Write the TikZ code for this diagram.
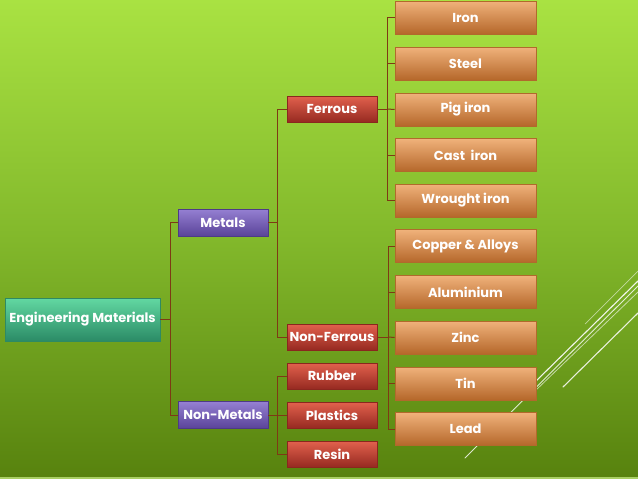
\documentclass[tikz,border=0pt]{standalone}
\usepackage{fontspec}
\setsansfont{Poppins}
\usetikzlibrary{calc}
\definecolor{bgtop}{HTML}{A9E242}
\definecolor{bgmid}{HTML}{82B82B}
\definecolor{bgbot}{HTML}{57820E}
\definecolor{bgstrip}{HTML}{A9D064}
\definecolor{conn}{HTML}{7E3A14}
\definecolor{tealT}{HTML}{62D8A2}
\definecolor{tealB}{HTML}{2B8B66}
\definecolor{tealD}{HTML}{2E8A63}
\definecolor{purpT}{HTML}{9580D2}
\definecolor{purpB}{HTML}{5A4399}
\definecolor{purpD}{HTML}{4E3A86}
\definecolor{redT}{HTML}{E2614D}
\definecolor{redB}{HTML}{962A21}
\definecolor{redD}{HTML}{8A271E}
\definecolor{oraT}{HTML}{F0B27B}
\definecolor{oraB}{HTML}{B5672A}
\definecolor{oraD}{HTML}{B06A2C}
\tikzset{
  box/.style={rectangle, inner sep=0pt, text=white, font=\sffamily\bfseries\fontsize{13}{15}\selectfont, line width=0.6pt},
  teal/.style={box, top color=tealT, bottom color=tealB, draw=tealD, minimum width=155pt, minimum height=43pt},
  purp/.style={box, top color=purpT, bottom color=purpB, draw=purpD, minimum width=90pt, minimum height=27pt},
  redb/.style={box, top color=redT, bottom color=redB, draw=redD, minimum width=90pt, minimum height=26pt},
  orab/.style={box, top color=oraT, bottom color=oraB, draw=oraD, minimum width=141pt, minimum height=33pt},
  cline/.style={draw=conn, line width=1pt},
  deco/.style={draw=white, line cap=round},
}
\begin{document}
\begin{tikzpicture}[x=1pt,y=-1pt]
\useasboundingbox (0,0) rectangle (638,479);
% background
\shade[top color=bgtop, bottom color=bgbot, middle color=bgmid] (0,0) rectangle (638,479);
\fill[bgstrip] (0,476.5) rectangle (638,479);
% decorative lines
\draw[deco, line width=0.7pt, opacity=0.55] (585,324) -- (638,271);
\draw[deco, line width=1.1pt, opacity=0.9] (535,382) -- (638,281);
\draw[deco, line width=0.9pt, opacity=0.8] (465,458) -- (638,286);
\draw[deco, line width=0.8pt, opacity=0.6] (535,391) -- (638,292);
\draw[deco, line width=1.1pt, opacity=0.85] (563,387) -- (638,313);
% nodes
\node[teal] (em) at (82.5,319.5) {Engineering Materials};
\node[purp] (met) at (223,222.5) {Metals};
\node[purp] (nmet) at (223,415) {Non-Metals};
\node[redb] (fer) at (332,109) {Ferrous};
\node[redb] (nfer) at (332,337) {Non-Ferrous};
\node[redb] (rub) at (332,376) {Rubber};
\node[redb] (pla) at (332,415) {Plastics};
\node[redb] (res) at (332,454) {Resin};
\node[orab] (iron) at (465.5,17.5) {Iron};
\node[orab] (steel) at (465.5,63.5) {Steel};
\node[orab] (pig) at (465.5,109.5) {Pig iron};
\node[orab] (cast) at (465.5,155) {Cast\ \ iron};
\node[orab] (wro) at (465.5,200.5) {Wrought iron};
\node[orab] (cop) at (465.5,246) {Copper \& Alloys};
\node[orab] (alu) at (465.5,292) {Aluminium};
\node[orab] (zinc) at (465.5,337.5) {Zinc};
\node[orab] (tin) at (465.5,383.5) {Tin};
\node[orab] (lead) at (465.5,429) {Lead};
% junctions
\coordinate (j1) at (170,319.5);
\coordinate (j2) at (277,222.5);
\coordinate (j3) at (277,415);
\coordinate (j4) at (387,109);
\coordinate (j5) at (388,337);
% connectors
\draw[cline] (em.east) -- (j1) |- (met.west);
\draw[cline] (j1) |- (nmet.west);
\draw[cline] (met.east) -- (j2) |- (fer.west);
\draw[cline] (j2) |- (nfer.west);
\draw[cline] (nmet.east) -- (j3) |- (rub.west);
\draw[cline] (j3) -- (pla.west);
\draw[cline] (j3) |- (res.west);
\draw[cline] (fer.east) -- (j4) |- (iron.west);
\draw[cline] (j4) |- (steel.west);
\draw[cline] (j4) -- (pig.west);
\draw[cline] (j4) |- (cast.west);
\draw[cline] (j4) |- (wro.west);
\draw[cline] (nfer.east) -- (j5) |- (cop.west);
\draw[cline] (j5) |- (alu.west);
\draw[cline] (j5) -- (zinc.west);
\draw[cline] (j5) |- (tin.west);
\draw[cline] (j5) |- (lead.west);
\end{tikzpicture}
\end{document}
